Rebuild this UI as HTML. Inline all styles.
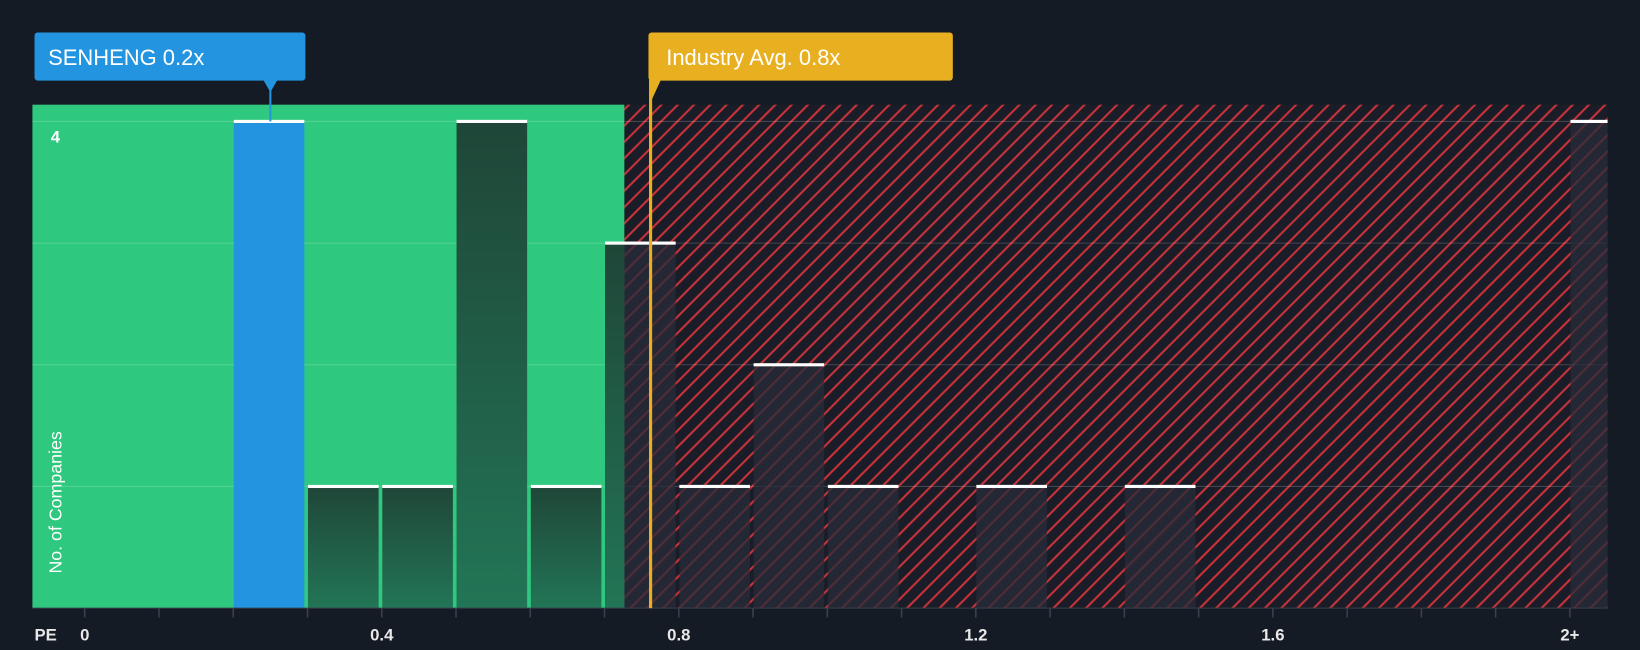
<!DOCTYPE html>
<html><head><meta charset="utf-8"><style>
html,body{margin:0;padding:0;background:#151b24;}
svg{display:block;font-family:"Liberation Sans",sans-serif;}
</style></head><body>
<svg id="chart" width="1640" height="650" viewBox="0 0 1568 621" preserveAspectRatio="none" xmlns="http://www.w3.org/2000/svg">
<defs>
<pattern id="hatch" patternUnits="userSpaceOnUse" width="11" height="11" patternTransform="rotate(45)">
<rect width="11" height="11" fill="#1a1d27"/>
<rect x="0" y="0" width="2" height="11" fill="#c8323a"/>
</pattern>
<linearGradient id="gbar" x1="0" y1="0" x2="0" y2="1">
<stop offset="0" stop-color="#1f4638"/><stop offset="1" stop-color="#227556"/>
</linearGradient>
</defs>
<rect width="1568" height="621" fill="#151b24"/>
<g id="plot"></g>
</svg>
<script>
const binStarts=[0.2,0.3,0.4,0.5,0.6,0.7,0.8,0.9,1.0,1.2,1.4,2.0];
const counts=[4,1,1,4,1,3,1,2,1,1,1,4];
const xTicks=[0,0.4,0.8,1.2,1.6,2.0];
const xTickLabels=["0","0.4","0.8","1.2","1.6","2+"];
const yGrid=[1,2,3,4];
const companyValue=0.25;
const industryValue=0.762;
const NS="http://www.w3.org/2000/svg";
const g=document.getElementById('plot');
const X=v=>81+v*710;
const Y=v=>581-v*116.25;
const L=31,R=1537,T=100,B=581;
const split=597;
function mk(t,a){const e=document.createElementNS(NS,t);for(const k in a)e.setAttribute(k,a[k]);g.appendChild(e);return e;}
let e;
e=mk('rect',{x:L,y:T,width:split-L,height:B-T,fill:'#2ec97e'});


e=mk('rect',{x:split,y:T,width:R-split,height:B-T,fill:'url(#hatch)'});


yGrid.forEach(v=>{e=mk('line',{x1:L,x2:R,y1:Y(v),y2:Y(v),stroke:'rgba(255,255,255,0.18)','stroke-width':1});

});
binStarts.forEach((s,i)=>{
 const x0=X(s)+0.5, w=(s>=2.0)?R-X(s)-0.5:X(s+0.1)-X(s)-3.5;
 const y=Y(counts[i]);
 let fill;
 if(i===0) fill='#2394e0'; else if(x0+w<=split) fill='url(#gbar)'; else fill='rgba(40,44,58,0.75)';
 e=mk('rect',{x:x0,y:y,width:w,height:B-y,fill:fill});
 
 
 if(x0<split && x0+w>split){
  e=mk('rect',{x:x0,y:y,width:split-x0,height:B-y,fill:'url(#gbar)'});
  
  
 }
 e=mk('rect',{x:x0,y:y-1.5,width:w,height:3,fill:'#ffffff'});
 
 
});
e=mk('line',{x1:L,x2:R,y1:B,y2:B,stroke:'#3a404c','stroke-width':1});


for(let k=0;k<=20;k++){const v=k/10;
 e=mk('line',{x1:X(v),x2:X(v),y1:B,y2:B+9,stroke:'#3a404c','stroke-width':1.5});
 
 }
xTicks.forEach((v,i)=>{e=mk('text',{x:X(v),y:612,fill:'#e8e8e8','font-size':16,'font-weight':'bold','text-anchor':'middle'});
 e.textContent=xTickLabels[i];
 
 });
e=mk('text',{x:33,y:612,fill:'#e8e8e8','font-size':16,'font-weight':'bold'});e.textContent='PE';


e=mk('text',{x:53,y:136,fill:'#ffffff','font-size':16,'font-weight':'bold','text-anchor':'middle'});e.textContent='4';


e=mk('text',{x:59,y:480,fill:'#ffffff','font-size':17,'text-anchor':'middle',transform:'rotate(-90 59 480)'});e.textContent='No. of Companies';


const ix=X(industryValue);
e=mk('line',{x1:ix,x2:ix,y1:70,y2:B,stroke:'#e8b020','stroke-width':3});


e=mk('rect',{x:620,y:31,width:291,height:46,rx:3,fill:'#e8b020'});


e=mk('text',{x:637,y:62,fill:'#ffffff','font-size':21});e.textContent='Industry Avg. 0.8x';


e=mk('path',{d:`M${ix-1} 76 L${ix+10} 76 L${ix-1} 100 Z`,fill:'#e8b020'});


const cx=X(companyValue);
e=mk('line',{x1:cx,x2:cx,y1:77,y2:116,stroke:'#2394e0','stroke-width':2});


e=mk('rect',{x:33,y:31,width:259,height:46,rx:3,fill:'#2394e0'});


e=mk('path',{d:`M${cx-7} 76 L${cx+7} 76 L${cx} 88 Z`,fill:'#2394e0'});


e=mk('text',{x:46,y:62,fill:'#ffffff','font-size':21});e.textContent='SENHENG 0.2x';


</script>
</body></html>
